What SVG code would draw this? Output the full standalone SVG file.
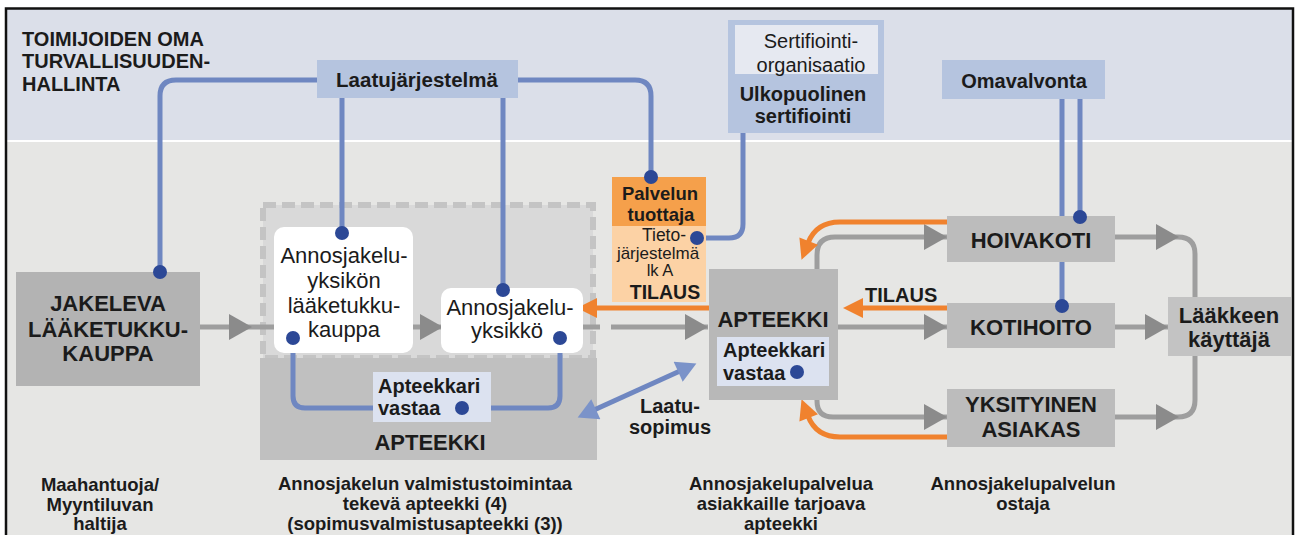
<svg xmlns="http://www.w3.org/2000/svg" width="1296" height="535" viewBox="0 0 1296 535">
<style>
text { font-family: "Liberation Sans", Arial, sans-serif; fill: #1b1b1b; }
.b { font-weight: bold; }
.c { text-anchor: middle; }
.s18 { font-size: 18.5px; }
.s20 { font-size: 20px; }
.s22 { font-size: 22px; }
.blue { fill: none; stroke: #6f87c1; stroke-width: 5; }
.grey { fill: none; stroke: #9e9e9e; stroke-width: 5; }
.orange { fill: none; stroke: #f0822e; stroke-width: 5; }
.dot { fill: #2c4896; }
.gbox { fill: #bcbcbc; }
.lbox { fill: #b5c4df; }
.abox { fill: #dce2f0; }
.wbox { fill: #ffffff; }
</style>
<defs>
<path id="ahg" d="M0,0 L-23,-13 L-23,13 Z" fill="#8b8b8b"/>
<marker id="mo" markerUnits="userSpaceOnUse" markerWidth="22" markerHeight="20" viewBox="0 0 20 20" refX="2" refY="10" orient="auto">
<path d="M0,0 L20,10 L0,20 Z" fill="#f0822e"/>
</marker>
<marker id="mb" markerUnits="userSpaceOnUse" markerWidth="22" markerHeight="22" viewBox="0 0 20 22" refX="2" refY="11" orient="auto-start-reverse">
<path d="M0,0 L20,11 L0,22 Z" fill="#7b93c9"/>
</marker>
</defs>

<g id="background">
<rect x="0" y="0" width="1296" height="535" fill="#ffffff"/>
<rect x="6" y="9" width="1287" height="131" fill="#dbdfe9"/>
<rect x="6" y="142" width="1287" height="400" fill="#e6e6e4"/>
<rect x="6" y="8.5" width="1287" height="540" fill="none" stroke="#111" stroke-width="2.5"/>
</g>

<g id="title">
<text class="b s20" x="22" y="46">TOIMIJOIDEN OMA</text>
<text class="b s20" x="22" y="68">TURVALLISUUDEN-</text>
<text class="b s20" x="22" y="91">HALLINTA</text>
</g>

<g id="valmistus-apteekki">
<rect x="263" y="205" width="330" height="153" fill="#d9d9d9" stroke="#c4c4c4" stroke-width="6" stroke-dasharray="13 6"/>
<rect x="260" y="358" width="337" height="102" fill="#c0c0c0"/>
<text class="b s22 c" x="430" y="450">APTEEKKI</text>
</g>

<g id="connectors">
<path class="blue" d="M317,80 H176 Q160,80 160,96 V272"/>
<path class="blue" d="M342,98 V233"/>
<path class="blue" d="M503,98 V290"/>
<path class="blue" d="M518,80 H635 Q651,80 651,96 V177"/>
<path class="blue" d="M743,133 V224 Q743,238 729,238 H697"/>
<path class="blue" d="M1062,99 V306"/>
<path class="blue" d="M1080,99 V217"/>
<path class="blue" d="M293,338 V396 Q293,408 305,408 H373"/>
<path class="blue" d="M491,408 H548 Q560,408 560,396 V338"/>
<path class="blue" d="M594,410 L680,371" stroke="#7b93c9" marker-start="url(#mb)" marker-end="url(#mb)"/>

<path class="grey" d="M200,327 H274"/>
<path class="grey" d="M413,327 H441"/>
<path class="grey" d="M583,327 H600"/>
<path class="grey" d="M611,327 H708"/>
<path class="grey" d="M817,269 V255 Q817,237 835,237 H947"/>
<path class="grey" d="M838,327 H947"/>
<path class="grey" d="M817,400 V401 Q817,417 833,417 H947"/>
<path class="grey" d="M1115,237 H1178 Q1195,237 1195,254 V297"/>
<path class="grey" d="M1115,327 H1168"/>
<path class="grey" d="M1115,417 H1178 Q1195,417 1195,400 V356"/>
<use href="#ahg" x="252" y="327"/>
<use href="#ahg" x="443" y="327"/>
<use href="#ahg" x="708" y="327"/>
<use href="#ahg" x="947" y="237"/>
<use href="#ahg" x="947" y="327"/>
<use href="#ahg" x="947" y="417"/>
<use href="#ahg" x="1179" y="237"/>
<use href="#ahg" x="1168" y="327"/>
<use href="#ahg" x="1179" y="417"/>

<path class="orange" d="M709,308 H595" marker-end="url(#mo)"/>
<path class="orange" d="M947,308 H861" marker-end="url(#mo)"/>
<path class="orange" d="M947,222 H840 C823,222 813,230 808,243" marker-end="url(#mo)"/>
<path class="orange" d="M947,437 H840 C823,437 813,429 808,416" marker-end="url(#mo)"/>
</g>

<g id="laatujarjestelma">
<rect class="lbox" x="317" y="60" width="201" height="38"/>
<text class="b c" x="417" y="87" font-size="20.5">Laatujärjestelmä</text>
</g>

<g id="ulkopuolinen-sertifiointi">
<rect class="lbox" x="728" y="20" width="156" height="113"/>
<rect x="735" y="25" width="143" height="49" fill="#e6e9f1"/>
<text class="s20 c" x="811" y="48">Sertifiointi-</text>
<text class="s20 c" x="811" y="72">organisaatio</text>
<text class="b s20 c" x="803" y="101">Ulkopuolinen</text>
<text class="b s20 c" x="803" y="123">sertifiointi</text>
</g>

<g id="omavalvonta">
<rect class="lbox" x="942" y="60" width="163" height="39"/>
<text class="b s20 c" x="1024" y="88">Omavalvonta</text>
</g>

<g id="palvelun-tuottaja">
<rect x="612" y="177" width="94" height="49" fill="#f5a04b"/>
<rect x="612" y="226" width="94" height="76" fill="#fcd2a5"/>
<text class="b c" x="660" y="200" font-size="18.5">Palvelun</text>
<text class="b c" x="661" y="221" font-size="18.5">tuottaja</text>
<text class="c" x="664" y="241" font-size="17.5">Tieto-</text>
<text class="c" x="658" y="259" font-size="17">järjestelmä</text>
<text class="c" x="660" y="276" font-size="16.5">lk A</text>
<text class="b c" x="665" y="299" font-size="19.5">TILAUS</text>
</g>

<g id="jakeleva">
<rect x="16" y="272" width="184" height="114" fill="#b3b3b3"/>
<text class="b s22 c" x="108" y="311">JAKELEVA</text>
<text class="b s22 c" x="108" y="337">LÄÄKETUKKU-</text>
<text class="b s22 c" x="108" y="361">KAUPPA</text>
</g>

<g id="annosjakeluyksikon-laaketukkukauppa">
<rect class="wbox" x="274" y="227" width="139" height="126" rx="10"/>
<text class="s22 c" x="344" y="263">Annosjakelu-</text>
<text class="s22 c" x="344" y="288">yksikön</text>
<text class="s22 c" x="344" y="313">lääketukku-</text>
<text class="s22 c" x="344" y="337">kauppa</text>
</g>

<g id="annosjakeluyksikko">
<rect class="wbox" x="441" y="288" width="142" height="65" rx="10"/>
<text class="s22 c" x="510" y="315">Annosjakelu-</text>
<text class="s22 c" x="507" y="338">yksikkö</text>
</g>

<g id="apteekkari-vastaa-1">
<rect class="abox" x="373" y="372" width="118" height="50"/>
<text class="b s20" x="378" y="393">Apteekkari</text>
<text class="b s20" x="378" y="415">vastaa</text>
</g>

<g id="laatusopimus">
<text class="b s20 c" x="670" y="413">Laatu-</text>
<text class="b s20 c" x="670" y="434">sopimus</text>
</g>

<g id="apteekki">
<rect x="709" y="269" width="129" height="131" fill="#b8b8b8"/>
<text class="b s22 c" x="773" y="327">APTEEKKI</text>
<rect class="abox" x="717" y="337" width="112" height="49"/>
<text class="b s20" x="723" y="357">Apteekkari</text>
<text class="b s20" x="723" y="380">vastaa</text>
</g>

<g id="tilaus-label">
<text class="b s20" x="865" y="302">TILAUS</text>
</g>

<g id="hoivakoti">
<rect class="gbox" x="947" y="216" width="168" height="46"/>
<text class="b s22 c" x="1031" y="248">HOIVAKOTI</text>
</g>

<g id="kotihoito">
<rect class="gbox" x="947" y="303" width="168" height="45"/>
<text class="b s22 c" x="1031" y="335">KOTIHOITO</text>
</g>

<g id="yksityinen-asiakas">
<rect class="gbox" x="947" y="389" width="168" height="58"/>
<text class="b s22 c" x="1031" y="412">YKSITYINEN</text>
<text class="b s22 c" x="1031" y="437">ASIAKAS</text>
</g>

<g id="laakkeen-kayttaja">
<rect x="1168" y="297" width="123" height="59" fill="#c3c3c3"/>
<text class="b s22 c" x="1229" y="323">Lääkkeen</text>
<text class="b s22 c" x="1229" y="347">käyttäjä</text>
</g>

<g id="connector-dots">
<circle class="dot" cx="160" cy="272" r="7"/>
<circle class="dot" cx="342" cy="233" r="7"/>
<circle class="dot" cx="503" cy="290" r="7"/>
<circle class="dot" cx="651" cy="177" r="7"/>
<circle class="dot" cx="697" cy="238" r="7"/>
<circle class="dot" cx="1080" cy="217" r="7"/>
<circle class="dot" cx="1062" cy="306" r="7"/>
<circle class="dot" cx="293" cy="338" r="7"/>
<circle class="dot" cx="560" cy="338" r="7"/>
<circle class="dot" cx="462" cy="408" r="7"/>
<circle class="dot" cx="797" cy="372" r="7"/>
</g>

<g id="captions">
<text class="b s18 c" x="100" y="491">Maahantuoja/</text>
<text class="b s18 c" x="100" y="511">Myyntiluvan</text>
<text class="b s18 c" x="100" y="530">haltija</text>
<text class="b s18 c" x="425" y="490">Annosjakelun valmistustoimintaa</text>
<text class="b s18 c" x="425" y="510">tekevä apteekki (4)</text>
<text class="b s18 c" x="425" y="530">(sopimusvalmistusapteekki (3))</text>
<text class="b s18 c" x="781" y="490">Annosjakelupalvelua</text>
<text class="b s18 c" x="781" y="510">asiakkaille tarjoava</text>
<text class="b s18 c" x="781" y="530">apteekki</text>
<text class="b s18 c" x="1023" y="490">Annosjakelupalvelun</text>
<text class="b s18 c" x="1023" y="510">ostaja</text>
</g>
</svg>
